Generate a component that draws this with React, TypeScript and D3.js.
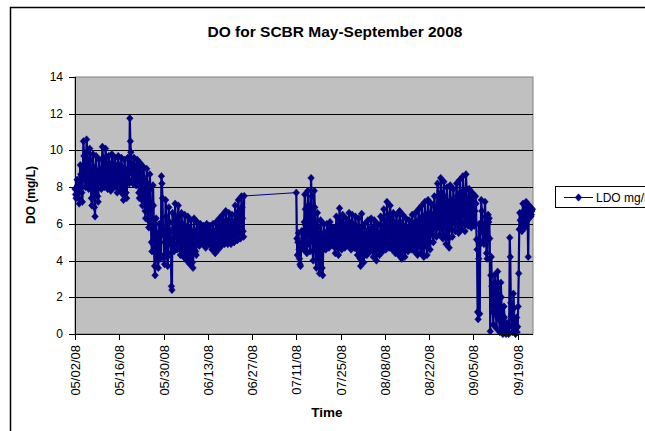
import React from "react";
import * as d3 from "d3";

// ---- Data (LDO mg/L, readings every 4 hours) ----
const mayStart = "2008-05-02";
const mayDO = [
  7.9, 7.6, 7.4, 7.9, 8.4, 8.1,
  8.0, 7.4, 7.1, 8.1, 9.2, 8.7,
  8.6, 7.7, 7.2, 8.9, 10.5, 9.7,
  9.1, 8.4, 8.0, 9.3, 10.6, 9.9,
  8.9, 8.2, 7.9, 9.0, 10.1, 9.5,
  8.3, 7.4, 7.0, 8.4, 9.8, 9.1,
  7.9, 6.9, 6.4, 8.0, 9.7, 8.9,
  8.2, 7.5, 7.2, 8.3, 9.5, 8.9,
  8.9, 8.2, 7.9, 9.0, 10.2, 9.6,
  9.0, 8.3, 8.0, 9.0, 10.1, 9.6,
  8.7, 8.2, 7.9, 8.8, 9.7, 9.3,
  8.7, 8.1, 7.8, 8.8, 9.8, 9.3,
  8.7, 8.2, 8.0, 8.8, 9.6, 9.2,
  8.6, 8.0, 7.7, 8.7, 9.7, 9.2,
  8.6, 8.1, 7.8, 8.7, 9.6, 9.1,
  8.3, 7.6, 7.3, 8.4, 9.5, 9.0,
  8.4, 7.7, 7.4, 8.5, 9.6, 9.0,
  8.7, 8.2, 11.75, 10.5, 9.9, 9.3,
  8.9, 8.4, 8.2, 8.9, 9.6, 9.2,
  8.7, 8.3, 8.1, 8.8, 9.5, 9.1,
  8.3, 7.7, 7.4, 8.4, 9.3, 8.8,
  8.0, 7.3, 7.0, 8.0, 9.1, 8.5,
  7.6, 6.7, 6.3, 7.7, 9.0, 8.2,
  7.2, 6.2, 5.8, 7.2, 8.7, 7.9,
  6.3, 5.0, 4.5, 6.2, 8.1, 7.0,
  4.8, 3.7, 3.2, 4.7, 6.3, 5.5,
  4.7, 4.0, 3.6, 4.8, 6.0, 5.4,
  5.0, 4.1, 8.6, 8.2, 7.4, 5.6,
  5.4, 4.3, 3.8, 5.5, 7.3, 6.4,
  5.1, 4.2, 3.7, 5.3, 6.9, 6.1,
];

const juneStart = "2008-06-01";
const juneDO = [
  5.6, 4.9, 4.4, 2.6, 2.4, 6.6,
  5.6, 4.8, 4.5, 5.8, 7.1, 6.4,
  5.7, 4.9, 4.6, 5.8, 7.0, 6.4,
  5.3, 4.6, 4.3, 5.5, 6.6, 6.0,
  5.2, 4.5, 4.2, 5.4, 6.5, 5.9,
  5.1, 4.3, 4.0, 5.2, 6.4, 5.8,
  4.9, 4.1, 3.8, 5.0, 6.2, 5.6,
  4.8, 3.9, 3.6, 5.0, 6.3, 5.6,
  5.1, 4.5, 4.3, 5.2, 6.1, 5.7,
  5.3, 4.9, 4.8, 5.4, 6.0, 5.7,
  5.4, 5.0, 4.9, 5.4, 5.9, 5.6,
  5.3, 4.9, 4.7, 5.3, 6.0, 5.7,
  5.3, 5.0, 4.9, 5.4, 5.9, 5.6,
  5.2, 4.8, 4.6, 5.3, 6.0, 5.6,
  5.1, 4.6, 4.4, 5.2, 6.1, 5.7,
  5.3, 4.8, 4.6, 5.4, 6.3, 5.9,
  5.5, 5.0, 4.8, 5.6, 6.5, 6.1,
  5.6, 5.1, 4.9, 5.8, 6.7, 6.2,
  5.6, 5.1, 4.9, 5.7, 6.6, 6.2,
  5.6, 5.1, 4.9, 5.7, 6.5, 6.1,
  5.8, 5.3, 5.0, 6.0, 7.0, 6.5,
  6.0, 5.4, 5.1, 6.2, 7.3, 6.7,
  6.2, 5.5, 5.2, 6.3, 7.5, 6.9,
  6.3, 5.6, 5.3, 7.52,
];

const julyStart = "2008-07-11";
const julyDO = [
  7.7, 5.2, 4.3, 5.0, 5.5, 4.6,
  4.1, 3.8, 3.7, 4.6, 5.6, 5.0,
  5.6, 4.9, 4.6, 6.1, 7.6, 6.8,
  5.9, 4.8, 4.4, 6.1, 7.8, 7.0,
  6.2, 5.0, 4.5, 6.5, 8.5, 7.5,
  5.7, 4.5, 4.0, 5.9, 7.8, 6.9,
  5.0, 4.0, 3.6, 5.1, 6.6, 5.8,
  4.6, 3.7, 3.3, 4.8, 6.2, 5.5,
  4.5, 3.6, 3.2, 4.6, 6.0, 5.3,
  5.2, 4.8, 4.6, 5.3, 6.0, 5.6,
  5.3, 4.9, 4.7, 5.4, 6.1, 5.8,
  5.3, 5.0, 4.9, 5.3, 5.8, 5.6,
  5.3, 4.7, 4.4, 5.4, 6.4, 5.9,
  5.4, 4.7, 4.3, 5.6, 6.85, 6.2,
  5.4, 4.9, 4.6, 5.5, 6.5, 6.0,
  5.4, 4.9, 4.7, 5.5, 6.3, 5.9,
  5.6, 5.0, 4.8, 5.7, 6.6, 6.1,
  5.4, 4.9, 4.6, 5.5, 6.5, 6.0,
  5.4, 4.9, 4.7, 5.5, 6.4, 5.9,
  5.2, 4.6, 4.3, 5.3, 6.3, 5.8,
  4.9, 4.1, 3.7, 5.1, 6.55, 5.8,
];

const augustStart = "2008-08-01";
const augustDO = [
  4.8, 4.2, 3.9, 4.9, 6.0, 5.5,
  5.1, 4.5, 4.3, 5.2, 6.2, 5.7,
  5.3, 4.7, 4.5, 5.4, 6.3, 5.8,
  5.1, 4.5, 4.2, 5.2, 6.2, 5.7,
  4.9, 4.3, 4.0, 5.0, 6.0, 5.5,
  5.2, 4.6, 4.3, 5.3, 6.4, 5.9,
  5.5, 4.8, 4.5, 5.6, 6.8, 6.2,
  5.8, 4.9, 4.6, 5.9, 7.2, 6.5,
  5.7, 5.0, 4.7, 5.8, 7.0, 6.4,
  5.5, 4.9, 4.6, 5.6, 6.6, 6.1,
  5.3, 4.7, 4.4, 5.4, 6.5, 6.0,
  5.4, 4.6, 4.3, 5.5, 6.7, 6.1,
  5.2, 4.4, 4.1, 5.3, 6.5, 5.9,
  5.1, 4.5, 4.2, 5.2, 6.3, 5.8,
  5.3, 4.7, 4.5, 5.3, 6.2, 5.8,
  5.4, 4.9, 4.6, 5.5, 6.5, 6.0,
  5.4, 4.8, 4.5, 5.5, 6.6, 6.1,
  5.4, 4.7, 4.3, 5.5, 6.8, 6.2,
  5.6, 4.8, 4.4, 5.7, 7.0, 6.4,
  5.5, 4.7, 4.2, 5.7, 7.2, 6.5,
  5.6, 4.8, 4.3, 5.8, 7.3, 6.6,
  5.7, 5.0, 4.6, 5.8, 7.1, 6.5,
  6.1, 5.4, 5.0, 6.2, 7.5, 6.9,
  6.6, 5.7, 5.3, 6.7, 8.2, 7.5,
  6.8, 5.9, 5.4, 6.9, 8.5, 7.7,
  6.6, 5.7, 5.2, 6.7, 8.3, 7.5,
  6.3, 5.4, 4.9, 6.4, 8.0, 7.2,
  6.1, 5.2, 4.7, 6.4, 8.1, 7.3,
  6.5, 5.7, 5.3, 6.6, 7.9, 7.2,
  6.8, 6.0, 5.6, 6.9, 8.2, 7.5,
  6.8, 5.9, 5.5, 6.9, 8.4, 7.7,
];

const septemberStart = "2008-09-01";
const septemberDO = [
  7.0, 6.1, 5.7, 7.1, 8.6, 7.8,
  7.0, 6.0, 5.6, 7.1, 8.7, 7.9,
  6.8, 6.2, 5.9, 6.9, 7.9, 7.4,
  6.7, 6.1, 5.8, 6.7, 7.7, 7.2,
  6.6, 6.1, 5.9, 6.7, 7.5, 7.1,
  5.15, 4.6, 1.2, 0.8, 4.1, 6.0,
  1.1, 4.9, 5.6, 7.3, 6.7, 5.9,
  5.6, 5.1, 4.9, 6.0, 7.2, 6.4,
  5.3, 4.4, 4.1, 5.2, 6.5, 6.1,
  6.3, 5.2, 0.15, 3.2, 4.2, 2.6,
  2.0, 1.2, 0.5, 2.5, 3.2, 2.8,
  2.1, 1.0, 0.3, 2.0, 3.4, 2.5,
  1.8, 0.8, 0.1, 1.5, 2.8, 2.0,
  1.0, 0.3, 0.0, 0.6, 1.5, 0.9,
  0.3, 0.1, 0.0, 0.2, 0.6, 0.4,
  0.1, 0.0, 0.4, 5.25, 4.2, 1.7,
  1.0, 0.4, 0.1, 0.8, 2.2, 1.4,
  0.6, 0.2, 0.0, 0.3, 0.9, 0.1,
  0.4, 1.5, 3.3, 5.7, 6.6, 6.2,
  6.2, 5.8, 5.6, 6.3, 7.1, 6.7,
  6.4, 6.0, 5.8, 6.5, 7.2, 6.9,
  6.6, 6.2, 4.2, 6.4, 7.0, 6.8,
  6.6, 6.4, 6.5, 6.7, 6.8,
];

const xTickDates = [
  "2008-05-02", "2008-05-16", "2008-05-30", "2008-06-13", "2008-06-27", "2008-07-11",
  "2008-07-25", "2008-08-08", "2008-08-22", "2008-09-05", "2008-09-19",
];
const yTicks = [0, 2, 4, 6, 8, 10, 12, 14];
const xDomain = ["2008-05-02T00:00", "2008-09-23T20:30"];

const title = "DO for SCBR May-September 2008";
const xTitle = "Time";
const yTitle = "DO (mg/L)";
const seriesName = "LDO mg/L";

// ---- Build points ----
const parseDay = d3.timeParse("%Y-%m-%d");
const parseTime = d3.timeParse("%Y-%m-%dT%H:%M");
const blocks: [string, number[]][] = [
  [mayStart, mayDO],
  [juneStart, juneDO],
  [julyStart, julyDO],
  [augustStart, augustDO],
  [septemberStart, septemberDO],
];
type Pt = { t: Date; v: number };
const points: Pt[] = [];
blocks.forEach(([start, vals]) => {
  const s = parseDay(start)!;
  vals.forEach((v, i) => points.push({ t: d3.timeHour.offset(s, i * 4), v }));
});
// split into continuous runs (a data gap > 1 day breaks a run)
const runs: Pt[][] = [];
points.forEach((p, i) => {
  if (i === 0 || +p.t - +points[i - 1].t > 24 * 3600e3) runs.push([p]);
  else runs[runs.length - 1].push(p);
});

const W = 645;
const H = 431;
const plot = { left: 75, right: 533, top: 77, bottom: 334 };
const font = "'Liberation Sans', Arial, Helvetica, sans-serif";
const navy = "#000080";

export default function App() {
  const x = d3
    .scaleTime()
    .domain([parseTime(xDomain[0])!, parseTime(xDomain[1])!])
    .range([plot.left, plot.right]);
  const y = d3.scaleLinear().domain([0, 14]).range([plot.bottom, plot.top]);
  const line = d3
    .line<Pt>()
    .x((d) => x(d.t))
    .y((d) => y(d.v));
  const fmt = d3.timeFormat("%m/%d/%y");
  const diamond = "M0,-3.7L3.3,0L0,3.7L-3.3,0Z";

  return (
    <svg
      width={W}
      height={H}
      style={{ position: "absolute", left: 0, top: 0, background: "#fff" }}
      fontFamily={font}
    >
      <rect x={0} y={0} width={W} height={H} fill="#fff" />
      {/* chart area border */}
      <rect x={10.5} y={7.5} width={700} height={500} fill="none" stroke="#000" strokeWidth={1.5} />

      <text x={335} y={37} textAnchor="middle" fontSize={15.5} fontWeight="bold" fill="#000">
        {title}
      </text>

      {/* plot area */}
      <rect
        x={plot.left}
        y={plot.top}
        width={plot.right - plot.left}
        height={plot.bottom - plot.top}
        fill="#c0c0c0"
        stroke="#808080"
        strokeWidth={1}
      />
      {yTicks.map((t) =>
        t > 0 && t < 14 ? (
          <line key={"g" + t} x1={plot.left} x2={plot.right} y1={Math.round(y(t)) + 0.5} y2={Math.round(y(t)) + 0.5} stroke="#000" strokeWidth={1} />
        ) : null
      )}

      {/* series: thin connector across everything, dense runs drawn heavier */}
      <path d={line(points) || ""} fill="none" stroke={navy} strokeWidth={1} />
      {runs.map((r, i) => (
        <path key={"r" + i} d={line(r) || ""} fill="none" stroke={navy} strokeWidth={2.2} strokeLinejoin="round" />
      ))}
      {points.map((p, i) => (
        <path key={i} d={diamond} transform={`translate(${x(p.t)},${y(p.v)})`} fill={navy} stroke={navy} strokeWidth={0.5} />
      ))}

      {/* axes */}
      <line x1={plot.left + 0.5} x2={plot.left + 0.5} y1={plot.top} y2={plot.bottom} stroke="#000" />
      <line x1={plot.left} x2={plot.right} y1={plot.bottom + 0.5} y2={plot.bottom + 0.5} stroke="#000" />
      {yTicks.map((t) => (
        <g key={"y" + t}>
          <line x1={plot.left - 6} x2={plot.left} y1={Math.round(y(t)) + 0.5} y2={Math.round(y(t)) + 0.5} stroke="#000" />
          <text x={63} y={y(t) + 4} textAnchor="end" fontSize={12} fill="#000">
            {t}
          </text>
        </g>
      ))}
      {xTickDates.map((d) => {
        const px = Math.round(x(parseDay(d)!)) + 0.5;
        return (
          <g key={d}>
            <line x1={px} x2={px} y1={plot.bottom} y2={plot.bottom + 6} stroke="#000" />
            <text
              transform={`translate(${px + 4.5},${plot.bottom + 11}) rotate(-90)`}
              textAnchor="end"
              fontSize={13}
              fill="#000"
            >
              {fmt(parseDay(d)!)}
            </text>
          </g>
        );
      })}

      <text x={327} y={416.5} textAnchor="middle" fontSize={13.5} fontWeight="bold" fill="#000">
        {xTitle}
      </text>
      <text transform="translate(34.5,195) rotate(-90)" textAnchor="middle" fontSize={12} fontWeight="bold" fill="#000">
        {yTitle}
      </text>

      {/* legend */}
      <rect x={555.5} y={186.5} width={140} height={21} fill="#fff" stroke="#000" strokeWidth={1} />
      <line x1={564} x2={593} y1={197.5} y2={197.5} stroke={navy} strokeWidth={1} />
      <path d={diamond} transform="translate(578.5,197.5)" fill={navy} stroke={navy} strokeWidth={0.5} />
      <text x={596} y={202} fontSize={12} fill="#000">
        {seriesName}
      </text>
    </svg>
  );
}
